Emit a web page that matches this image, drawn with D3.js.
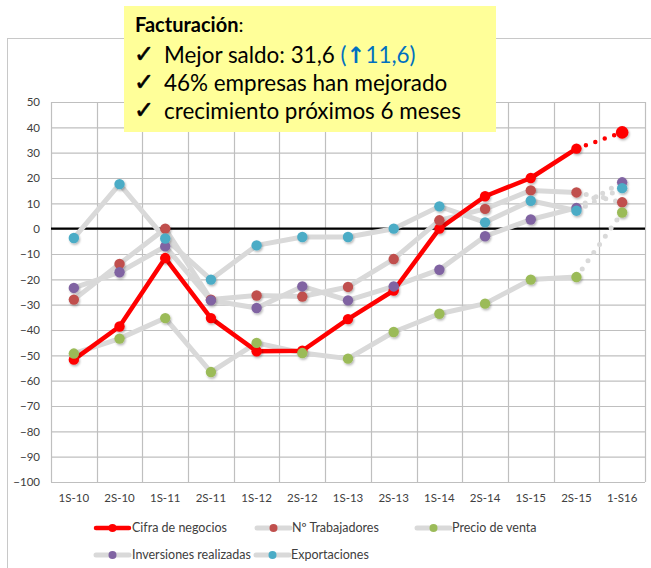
<!DOCTYPE html>
<html><head><meta charset="utf-8">
<script src="https://cdn.jsdelivr.net/npm/d3@7"></script>
<style>body{margin:0;background:#fff} svg{display:block}</style>
</head><body>
<svg id="c" width="651" height="568"></svg>
<script>
const categories = ["1S-10","2S-10","1S-11","2S-11","1S-12","2S-12","1S-13","2S-13","1S-14","2S-14","1S-15","2S-15","1-S16"];
const cifraNegocios = [-51.7,-38.6,-11.6,-35.3,-48.4,-48.2,-35.7,-24.4,0,12.8,20,31.6,38];
const trabajadores  = [-28,-13.9,0,-28,-26.4,-26.8,-23,-12,3.3,7.8,15.1,14.3,10.4];
const precioVenta   = [-49.3,-43.4,-35.3,-56.6,-45.1,-49.1,-51.3,-40.8,-33.6,-29.6,-20.1,-19.1,6.4];
const inversiones   = [-23.4,-17.2,-7,-28.3,-31.3,-22.8,-28.3,-22.8,-16.2,-3,3.6,8.2,18.3];
const exportaciones = [-3.7,17.6,-3.9,-20.1,-6.6,-3.3,-3.3,0,8.8,2.5,11,7.1,16];
const seriesNames = ["Cifra de negocios","Nº Trabajadores","Precio de venta","Inversiones realizadas","Exportaciones"];
const yTicks = d3.range(-100, 51, 10);
const calloutTitle = "Facturación";
const calloutLines = ["Mejor saldo: 31,6 ", "46% empresas han mejorado", "crecimiento próximos 6 meses"];
const calloutDelta = "11,6";

const svg = d3.select("#c");
const FONT = "Lato, 'Open Sans', sans-serif";

// drop shadow for markers
const defs = svg.append("defs");
const f = defs.append("filter").attr("id","sh").attr("x","-50%").attr("y","-50%").attr("width","200%").attr("height","200%");
f.append("feDropShadow").attr("dx",1).attr("dy",1.5).attr("stdDeviation",0.9).attr("flood-color","#000").attr("flood-opacity",0.3);

// outer chart frame
svg.append("rect").attr("x",7.5).attr("y",38.5).attr("width",700).attr("height",600)
  .attr("fill","#fff").attr("stroke","#c8c8c8").attr("stroke-width",1);

const x = d3.scaleBand().domain(categories).range([51,645]);
const y = d3.scaleLinear().domain([-100,50]).range([482,102]);
const cx = c => x(c) + x.bandwidth()/2;

// horizontal grid
const grid = svg.append("g");
grid.selectAll("line.h").data(yTicks).join("line")
  .attr("x1",x.range()[0]).attr("x2",x.range()[1])
  .attr("y1",d=>y(d)+0.5).attr("y2",d=>y(d)+0.5)
  .attr("stroke","#bfbfbf").attr("stroke-width",1.2);
// vertical grid at category boundaries
const bounds = categories.map(c=>x(c)).concat([x.range()[1]]);
grid.selectAll("line.v").data(bounds).join("line")
  .attr("x1",d=>Math.round(d)+0.5).attr("x2",d=>Math.round(d)+0.5)
  .attr("y1",y(50)).attr("y2",y(-100))
  .attr("stroke","#bfbfbf").attr("stroke-width",1.2);
// zero line
svg.append("line").attr("x1",x.range()[0]).attr("x2",x.range()[1])
  .attr("y1",y(0)).attr("y2",y(0)).attr("stroke","#000").attr("stroke-width",2.2);

// axes
const yAxis = svg.append("g").attr("transform","translate(51,0)")
  .call(d3.axisLeft(y).tickValues(yTicks).tickSize(0).tickPadding(11));
yAxis.select(".domain").remove();
yAxis.selectAll("text").attr("font-family",FONT).attr("font-size",11.5).attr("fill","#404040");

const xAxis = svg.append("g").attr("transform",`translate(0,${y(-100)})`)
  .call(d3.axisBottom(x).tickSize(0).tickPadding(12));
xAxis.select(".domain").remove();
xAxis.selectAll("text").attr("font-family",FONT).attr("font-size",11.5).attr("fill","#404040");

// series
const series = [
  {name:seriesNames[0], values:cifraNegocios, line:"#ff0000", marker:"#ff0000", w:4.5},
  {name:seriesNames[1], values:trabajadores,  line:"#d9d9d9", marker:"#c0504d", w:5},
  {name:seriesNames[2], values:precioVenta,   line:"#d9d9d9", marker:"#9bbb59", w:5},
  {name:seriesNames[3], values:inversiones,   line:"#d9d9d9", marker:"#8064a2", w:5},
  {name:seriesNames[4], values:exportaciones, line:"#d9d9d9", marker:"#4bacc6", w:5}
];
const n = categories.length;
const line = d3.line().x(d=>cx(d.c)).y(d=>y(d.v));
const pts = s => s.values.map((v,i)=>({c:categories[i], v}));

const gLines = svg.append("g");
const drawLine = s => {
  const p = pts(s);
  gLines.append("path").datum(p.slice(0,n-1)).attr("d",line)
    .attr("fill","none").attr("stroke",s.line).attr("stroke-width",s.w)
    .attr("stroke-linejoin","round").attr("stroke-linecap","round");
  gLines.append("path").datum(p.slice(n-2)).attr("d",line)
    .attr("fill","none").attr("stroke",s.line).attr("stroke-width",s.w)
    .attr("stroke-dasharray","0,10").attr("stroke-linecap","round");
};
series.slice(1).forEach(drawLine);
drawLine(series[0]);

const gMarks = svg.append("g").attr("filter","url(#sh)");
series.forEach((s,si)=>{
  gMarks.append("g").selectAll("circle").data(pts(s)).join("circle")
    .attr("cx",d=>cx(d.c)).attr("cy",d=>y(d.v))
    .attr("r",(d,i)=> (si===0 && i===n-1) ? 6.3 : 5.2)
    .attr("fill",s.marker);
});

// legend
const legendPos = [
  {lx:96, ty:528, tx:132},
  {lx:257, ty:528, tx:292},
  {lx:417, ty:528, tx:452},
  {lx:96, ty:555, tx:132},
  {lx:256, ty:555, tx:291}
];
const lg = svg.append("g");
series.forEach((s,i)=>{
  const p = legendPos[i];
  const g = lg.append("g");
  g.append("line").attr("x1",p.lx).attr("x2",p.lx+33).attr("y1",p.ty).attr("y2",p.ty)
    .attr("stroke",s.line).attr("stroke-width",s.w).attr("stroke-linecap","round");
  g.append("circle").attr("cx",p.lx+16.5).attr("cy",p.ty).attr("r",4).attr("fill",s.marker);
  g.append("text").attr("x",p.tx).attr("y",p.ty).attr("dy","0.35em")
    .attr("font-family",FONT).attr("font-size",12.5).attr("fill","#404040").text(s.name);
});

// callout box
const cb = svg.append("g");
cb.append("rect").attr("x",124).attr("y",6).attr("width",372).attr("height",126).attr("fill","#ffff99");
const title = cb.append("text").attr("x",135).attr("y",31.5).attr("font-family",FONT).attr("font-size",20).attr("fill","#000");
title.append("tspan").attr("font-weight","bold").text(calloutTitle);
title.append("tspan").text(":");
const baselines = [63, 91, 119];
const lineTexts = [];
calloutLines.forEach((t,i)=>{
  cb.append("text").attr("x",134).attr("y",baselines[i]-1).attr("font-family","'DejaVu Sans', sans-serif")
    .attr("font-size",24).attr("fill","#000").attr("stroke","#000").attr("stroke-width",0.6).text("✓");
  const tx = cb.append("text").attr("x",164).attr("y",baselines[i]).attr("font-family",FONT)
    .attr("font-size",20).attr("fill","#000");
  tx.append("tspan").text(t);
  lineTexts.push(tx);
});
// fit font so the last line spans the reference width
const wLast = lineTexts[2].node().getComputedTextLength();
const fs = 20 * 297 / wLast;
lineTexts.forEach(t=>t.attr("font-size",fs));
const blue = "#0070c0";
lineTexts[0].append("tspan").attr("fill",blue).text("(");
lineTexts[0].append("tspan").attr("fill",blue).attr("font-weight","bold").attr("font-family","'DejaVu Sans', sans-serif").text("↑");
lineTexts[0].append("tspan").attr("fill",blue).text(calloutDelta + ")");
</script>
</body></html>
